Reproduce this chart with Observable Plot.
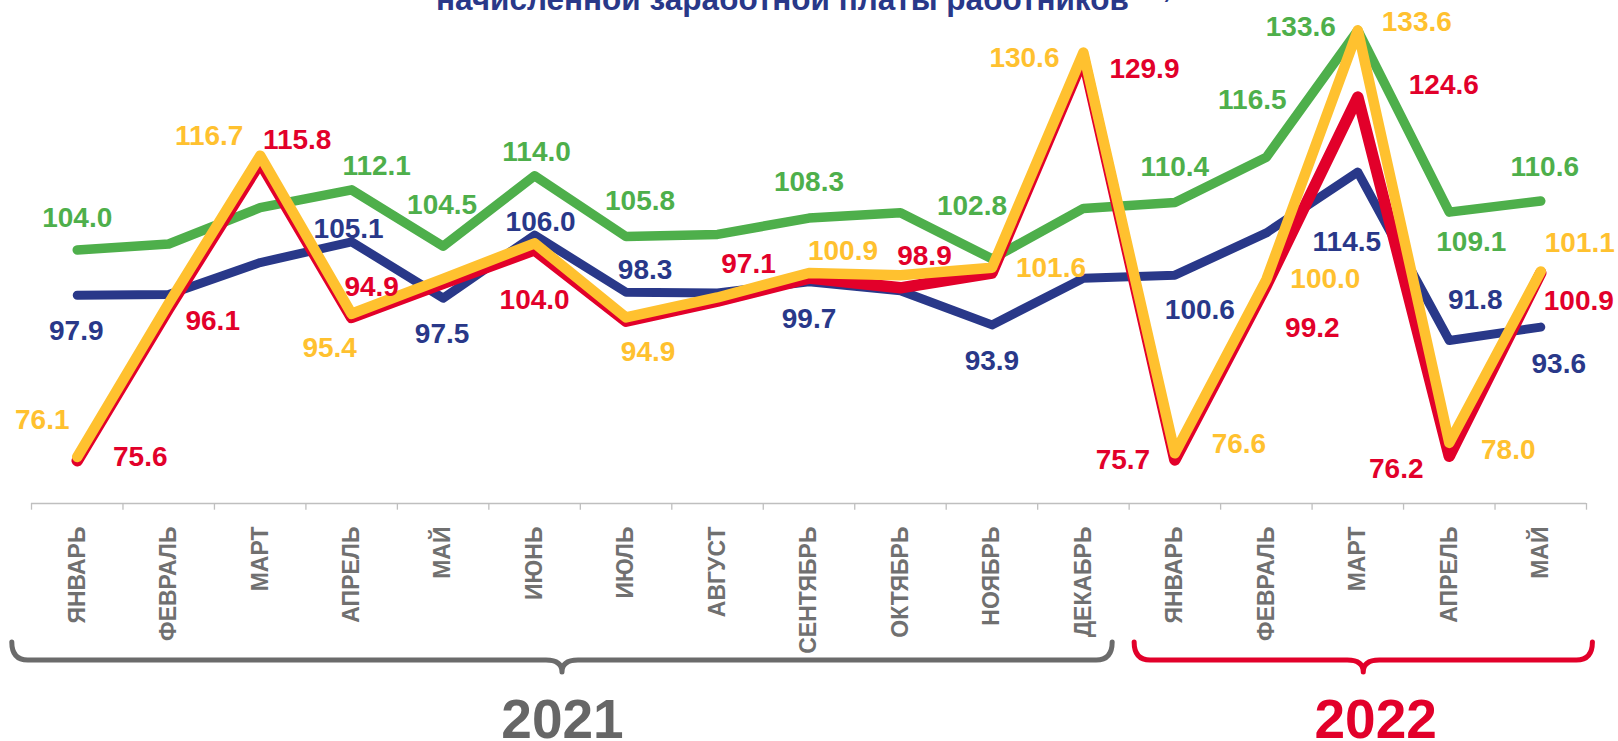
<!DOCTYPE html>
<html>
<head>
<meta charset="utf-8">
<script src="https://cdn.jsdelivr.net/npm/d3@7"></script>
<script src="https://cdn.jsdelivr.net/npm/@observablehq/plot@0.6"></script>
<style>
  html, body { margin: 0; padding: 0; background: #fff; overflow: hidden; }
  #wrap { position: relative; width: 1618px; height: 741px; }
  #title { position: absolute; left: 436px; top: -23px;
    font: bold 31.5px "Liberation Sans", Arial, sans-serif; line-height: 31.5px; color: #293889; white-space: nowrap; }
  #title sup { font-size: 18px; margin-left: 26px; }
  #chart { position: absolute; left: 0; top: 0; }
</style>
</head>
<body>
<div id="wrap">
  <div id="chart"></div>
  <div id="title">начисленной заработной платы работников<sup>1)</sup></div>
</div>
<script>
// ---- data ----
const months = ["ЯНВАРЬ","ФЕВРАЛЬ","МАРТ","АПРЕЛЬ","МАЙ","ИЮНЬ","ИЮЛЬ","АВГУСТ","СЕНТЯБРЬ","ОКТЯБРЬ","НОЯБРЬ","ДЕКАБРЬ",
                "ЯНВАРЬ","ФЕВРАЛЬ","МАРТ","АПРЕЛЬ","МАЙ"];
const years = ["2021", "2022"];
const yearSpans = [[-0.71, 11.32], [11.56, 16.57]];

const blue   = [97.9, 98.0, 102.3, 105.1, 97.5, 106.0, 98.3, 98.2, 99.7, 98.5, 93.9, 100.2, 100.6, 106.3, 114.5, 91.8, 93.6];
const green  = [104.0, 104.8, 109.7, 112.1, 104.5, 114.0, 105.8, 106.1, 108.3, 109.0, 102.8, 109.6, 110.4, 116.5, 133.6, 109.1, 110.6];
const red    = [75.6, 96.1, 115.8, 94.9, 99.5, 104.0, 94.4, 97.1, 100.2, 98.9, 100.9, 129.9, 75.7, 99.2, 124.6, 76.2, 100.9];
const yellow = [76.1, 96.8, 116.7, 95.4, 100.1, 104.9, 94.9, 97.6, 100.9, 100.6, 101.6, 130.6, 76.6, 100.0, 133.6, 78.0, 101.1];

// which points carry a value label: [month index, dx, dy]
const blueLabels   = [[0,-1,36],[3,-3,-13],[4,-1,36],[5,6,-13],[6,19,-22],[8,0,37],[10,0,36],[12,25,35],[14,-11,70],[15,26,-40],[16,18,37]];
const greenLabels  = [[0,0,-32],[3,25,-24],[4,-1,-41],[5,2,-24],[6,14,-36],[8,0,-36],[10,-20,-53],[12,0,-35],[13,-14,-57],[14,-57,-3],[15,22,30],[16,4,-34]];
const redLabels    = [[0,63,-4],[1,44,12],[2,37,-22],[3,20,-30],[5,0,50],[7,31,-37],[9,24,-32],[11,61,11],[12,-52,0],[13,46,42],[14,86,-12],[15,-53,13],[16,38,28]];
const yellowLabels = [[0,-35,-37],[2,-51,-20],[3,-22,34],[6,22,35],[8,34,-22],[10,59,0],[11,-59,5],[12,64,-9],[13,59,-1],[14,59,-8],[15,59,7],[16,39,-28]];

// ---- styles ----
const C = { blue: "#293889", green: "#4EAF4B", red: "#E2002A", yellow: "#FFC12F", gray: "#6b6b6b", axis: "#bfbfbf" };
const series = [
  { vals: blue,   labels: blueLabels,   color: C.blue,   width: 9 },
  { vals: green,  labels: greenLabels,  color: C.green,  width: 9.5 },
  { vals: red,    labels: redLabels,    color: C.red,    width: 11.5 },
  { vals: yellow, labels: yellowLabels, color: C.yellow, width: 10.5 }
];
const yDomain = [69.83, 137.62];
const fmt = d3.format(".1f");
const font = "'Liberation Sans', Arial, sans-serif";

const marks = [];
marks.push(Plot.ruleY([yDomain[0]], { stroke: C.axis, strokeWidth: 1.3 }));
marks.push(Plot.ruleX(d3.range(months.length + 1).map(i => i - 0.5), {
  x: d => d, y1: yDomain[0], y2: yDomain[0] - 0.9, stroke: C.axis, strokeWidth: 1.3
}));
marks.push(Plot.text(months, {
  x: (d, i) => i, text: d => d, frameAnchor: "bottom", dy: 23, rotate: -90,
  textAnchor: "end", lineAnchor: "middle", fontSize: 23, fontWeight: "bold", fill: "#707070"
}));

for (const s of series) {
  marks.push(Plot.line(s.vals, {
    x: (d, i) => i, y: d => d, stroke: s.color, strokeWidth: s.width,
    strokeLinejoin: "round", strokeLinecap: "round"
  }));
}
for (const s of series) {
  for (const [i, dx, dy] of s.labels) {
    marks.push(Plot.text([i], {
      x: d => d, y: d => s.vals[d], text: d => fmt(s.vals[d]), dx, dy,
      fill: s.color, fontSize: 28, fontWeight: "bold", textAnchor: "middle", lineAnchor: "middle"
    }));
  }
}

// braces under the month groups
const braceColors = [C.gray, C.red];
marks.push(function (index, scales) {
  const x = scales.x;
  const g = d3.create("svg:g");
  yearSpans.forEach(([a, b], k) => {
    const x1 = x(a), x2 = x(b), xm = (x1 + x2) / 2;
    const yt = 642, ym = 660, yp = 672, r = 16;
    const p = `M${x1},${yt} Q${x1},${ym} ${x1 + r},${ym} L${xm - r},${ym} Q${xm},${ym} ${xm},${yp} Q${xm},${ym} ${xm + r},${ym} L${x2 - r},${ym} Q${x2},${ym} ${x2},${yt}`;
    g.append("path").attr("d", p).attr("fill", "none").attr("stroke", braceColors[k])
      .attr("stroke-width", 5).attr("stroke-linecap", "round").attr("stroke-linejoin", "round");
  });
  return g.node();
});
marks.push(Plot.text(years, {
  x: (d, i) => (yearSpans[i][0] + yearSpans[i][1]) / 2 + (i === 1 ? 0.13 : 0),
  text: d => d, frameAnchor: "bottom", dy: 234, lineAnchor: "bottom", textAnchor: "middle",
  fontSize: 55, fontWeight: "bold", fontFamily: "'Liberation Sans Narrow', 'Liberation Sans', Arial, sans-serif",
  fill: (d, i) => i === 0 ? "#666666" : C.red
}));

const chart = Plot.plot({
  width: 1618, height: 741,
  marginLeft: 31, marginRight: 32, marginTop: 0, marginBottom: 238,
  x: { type: "linear", domain: [-0.5, 16.5], axis: null },
  y: { type: "linear", domain: yDomain, axis: null },
  style: { fontFamily: font, background: "white", overflow: "visible" },
  marks
});
document.getElementById("chart").appendChild(chart);
</script>
</body>
</html>
